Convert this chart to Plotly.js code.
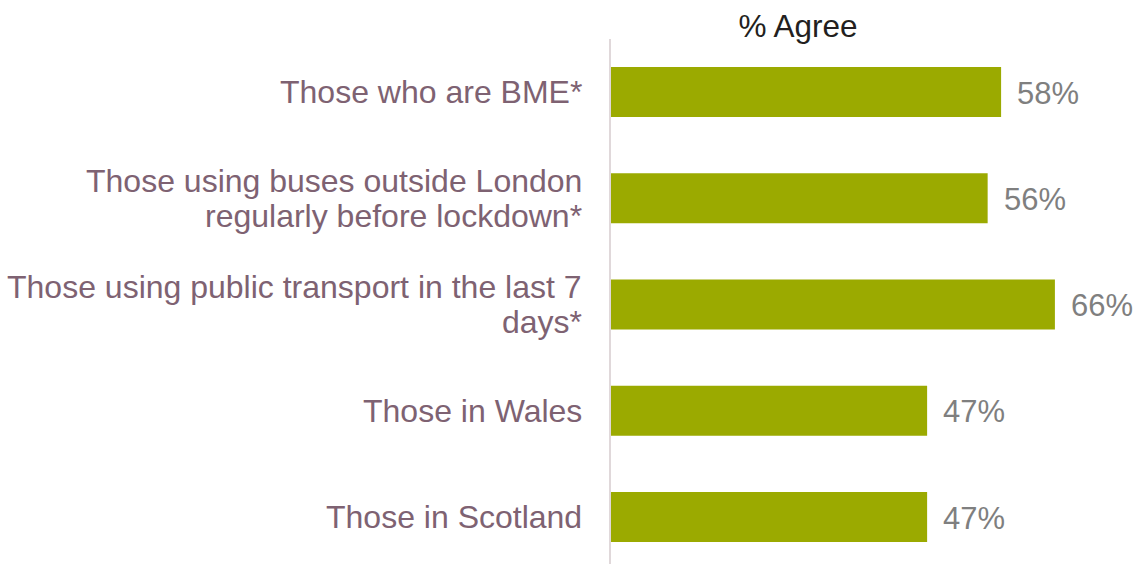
<!DOCTYPE html>
<html>
<head>
<meta charset="utf-8">
<script src="https://cdn.plot.ly/plotly-3.0.1.min.js"></script>
<style>html,body{margin:0;padding:0;background:#fff;}#chart{width:1141px;height:564px;}</style>
</head>
<body>
<div id="chart"></div>
<script>
const categories = [
  "Those who are BME*",
  "Those using buses outside London<br>regularly before lockdown*",
  "Those using public transport in the last 7<br>days*",
  "Those in Wales",
  "Those in Scotland"
];
const values = [58, 56, 66, 47, 47];
const chartTitle = "% Agree";

const FONT = "'Liberation Sans', Arial, sans-serif";
const idx = categories.map((c, i) => i);

const annotations = [];
categories.forEach((c, i) => {
  const lines = c.split("<br>");
  const n = lines.length;
  lines.forEach((ln, j) => {
    annotations.push({
      xref: "paper", yref: "y", x: 0, y: i,
      xanchor: "right", yanchor: "middle",
      xshift: -27, yshift: ((n - 1) / 2 - j) * 35,
      text: ln, showarrow: false,
      font: {family: FONT, size: 32, color: "#7E6272"}
    });
  });
});
values.forEach((v, i) => {
  annotations.push({
    xref: "x", yref: "y", x: v, y: i,
    xanchor: "left", yanchor: "middle",
    xshift: 14, yshift: -1,
    text: v + "%", showarrow: false,
    font: {family: FONT, size: 31, color: "#7F7F7F"}
  });
});

const trace = {
  type: "bar", orientation: "h",
  x: values, y: idx,
  marker: {color: "#9BAA00"},
  hoverinfo: "none"
};

const layout = {
  width: 1141, height: 564,
  margin: {l: 611, r: 0, t: 39, b: 0, pad: 0},
  paper_bgcolor: "#fff", plot_bgcolor: "#fff",
  bargap: 0.53,
  showlegend: false,
  title: {
    text: chartTitle,
    xref: "paper", x: (798 - 611) / 530, xanchor: "center",
    yref: "container", y: 1 - 26 / 564, yanchor: "middle",
    font: {family: FONT, size: 31.5, color: "#231F20"}
  },
  xaxis: {range: [0, 78.8], showgrid: false, zeroline: false, showline: false, showticklabels: false, ticks: "", fixedrange: true},
  yaxis: {range: [4.442, -0.499], showgrid: false, zeroline: false, showline: true, linecolor: "#E0D8DA", linewidth: 2, showticklabels: false, ticks: "", fixedrange: true},
  annotations: annotations
};

Plotly.newPlot("chart", [trace], layout, {displayModeBar: false, staticPlot: true});
</script>
</body>
</html>
